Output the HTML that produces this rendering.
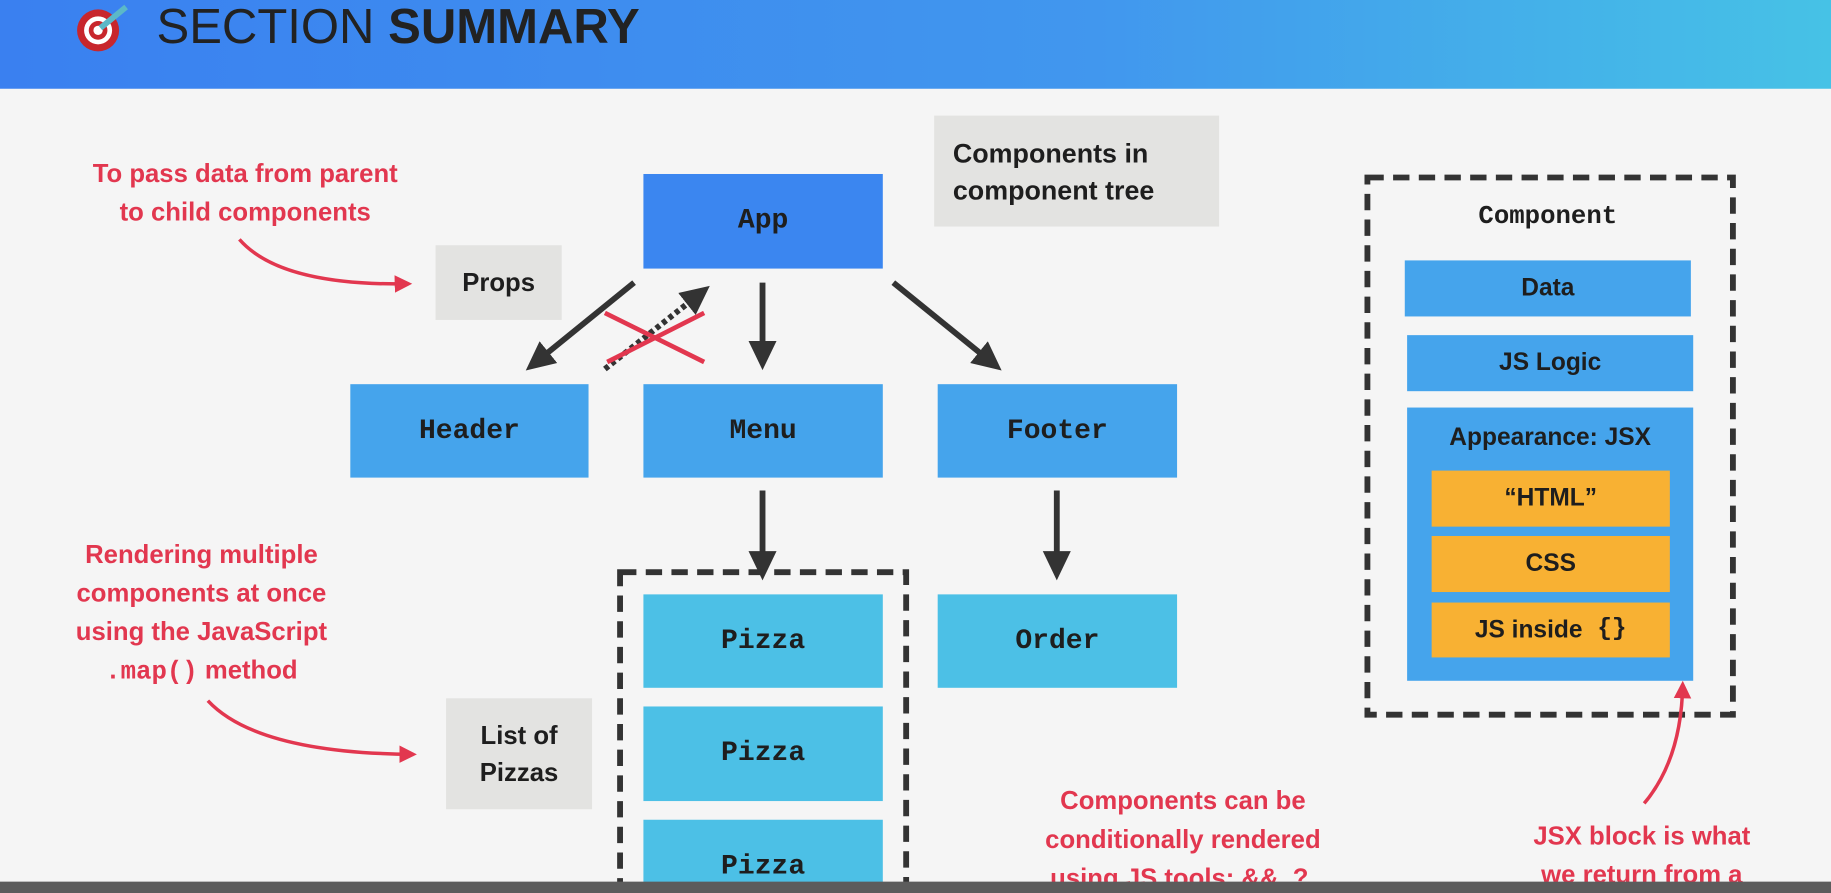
<!DOCTYPE html>
<html><head><meta charset="utf-8"><style>
html,body{margin:0;padding:0;width:1831px;height:893px;overflow:hidden;background:#f5f5f5}
#s{position:absolute;left:0;top:0;width:1568px;height:765px;overflow:hidden;transform:scale(1.16773);transform-origin:0 0;font-family:"Liberation Sans",sans-serif}
.b{position:absolute;display:flex;align-items:center;justify-content:center;font-weight:bold;color:#1e1e1e}
.m{font-family:"Liberation Mono",monospace;font-size:24px}
.g{background:#e3e3e1;font-size:22px;text-align:center;line-height:32px}
.r{position:absolute;color:#e2374f;font-weight:bold;font-size:22px;text-align:center;line-height:33px}
</style></head><body><div id="s">
<div style="position:absolute;left:0;top:0;width:1568px;height:76px;background:linear-gradient(90deg,#3a80f0,#4197ee 60%,#46c2e6)"></div>
<svg style="position:absolute;left:62px;top:0" width="60" height="50"><circle cx="22" cy="26" r="18" fill="#c8262c"/><circle cx="22" cy="26" r="12" fill="#fff"/><circle cx="22" cy="26" r="8" fill="#c8262c"/><circle cx="22" cy="26" r="4" fill="#fff"/><line x1="24" y1="24" x2="46" y2="6" stroke="#5bb8c8" stroke-width="5"/></svg>
<div style="position:absolute;left:134px;top:0px;font-size:42px;color:#222;line-height:46px">SECTION <b>SUMMARY</b></div>
<div class="r" style="left:40px;top:132px;width:340px">To pass data from parent<br>to child components</div>
<div class="b g" style="left:373px;top:210px;width:108px;height:64px">Props</div>
<div class="b g" style="left:800px;top:99px;width:244px;height:95px;justify-content:flex-start;text-align:left;padding-left:16px;box-sizing:border-box;font-size:23px">Components in<br>component tree</div>
<div class="b m" style="left:551px;top:149px;width:205px;height:81px;background:#3b86f0">App</div>
<div class="b m" style="left:300px;top:329px;width:204px;height:80px;background:#45a4ec">Header</div>
<div class="b m" style="left:551px;top:329px;width:205px;height:80px;background:#45a4ec">Menu</div>
<div class="b m" style="left:803px;top:329px;width:205px;height:80px;background:#45a4ec">Footer</div>
<div class="b m" style="left:551px;top:509px;width:205px;height:80px;background:#4cc0e6">Pizza</div>
<div class="b m" style="left:551px;top:605px;width:205px;height:81px;background:#4cc0e6">Pizza</div>
<div class="b m" style="left:551px;top:702px;width:205px;height:80px;background:#4cc0e6">Pizza</div>
<div class="b m" style="left:803px;top:509px;width:205px;height:80px;background:#4cc0e6">Order</div>
<div class="r" style="left:10px;top:458px;width:325px">Rendering multiple<br>components at once<br>using the JavaScript<br><span style="font-family:'Liberation Mono',monospace">.map()</span> method</div>
<div class="b g" style="left:382px;top:598px;width:125px;height:95px">List of<br>Pizzas</div>
<div class="r" style="left:850px;top:669px;width:326px">Components can be<br>conditionally rendered<br>using JS tools: &amp;&amp;, ?,</div>
<div class="r" style="left:1266px;top:699px;width:280px">JSX block is what<br>we return from a</div>
<div class="b m" style="left:1203px;top:168px;width:245px;height:34px;font-size:22px">Component</div>
<div class="b" style="left:1203px;top:223px;width:245px;height:48px;background:#45a4ec;font-size:21px">Data</div>
<div class="b" style="left:1205px;top:287px;width:245px;height:48px;background:#45a4ec;font-size:21px">JS Logic</div>
<div class="b" style="left:1205px;top:349px;width:245px;height:234px;background:#45a4ec;font-size:21px;align-items:flex-start;padding-top:14px;box-sizing:border-box">Appearance: JSX</div>
<div class="b" style="left:1226px;top:403px;width:204px;height:48px;background:#f8b133;font-size:21px">“HTML”</div>
<div class="b" style="left:1226px;top:459px;width:204px;height:48px;background:#f8b133;font-size:21px">CSS</div>
<div class="b" style="left:1226px;top:516px;width:204px;height:47px;background:#f8b133;font-size:21px">JS inside <span style="font-family:'Liberation Mono',monospace">&nbsp;{}</span></div>
<svg style="position:absolute;left:0;top:0" width="1568" height="765">
<defs>
<marker id="a" markerWidth="6" markerHeight="6" refX="3" refY="3" orient="auto" markerUnits="strokeWidth"><path d="M0,0.6L5,3L0,5.4z" fill="#333"/></marker>
<marker id="ra" markerWidth="6" markerHeight="6" refX="4" refY="3" orient="auto" markerUnits="strokeWidth"><path d="M0,0.5L5,3L0,5.5z" fill="#e2374f"/></marker>
</defs>
<g stroke="#333" stroke-width="5" fill="none">
<line x1="543" y1="242" x2="458" y2="311" marker-end="url(#a)"/>
<line x1="653" y1="242" x2="653" y2="307" marker-end="url(#a)"/>
<line x1="765" y1="242" x2="850" y2="311" marker-end="url(#a)"/>
<line x1="653" y1="420" x2="653" y2="487" marker-end="url(#a)"/>
<line x1="905" y1="420" x2="905" y2="487" marker-end="url(#a)"/>
<line x1="518" y1="316" x2="600" y2="251" stroke-dasharray="4 3" marker-end="url(#a)"/>
<rect x="531" y="490" width="245" height="300" stroke-dasharray="14 8"/>
<rect x="1171" y="152" width="313" height="460" stroke-dasharray="14 8"/>
</g>
<g stroke="#e2374f" stroke-width="4" fill="none">
<line x1="518" y1="268" x2="603" y2="310"/><line x1="520" y1="310" x2="603" y2="268"/>
<path d="M205,205 Q240,245 350,243" stroke-width="3" marker-end="url(#ra)"/>
<path d="M178,600 Q220,645 354,646" stroke-width="3" marker-end="url(#ra)"/>
<path d="M1408,688 Q1440,650 1441,586" stroke-width="3" marker-end="url(#ra)"/>
</g>
</svg>
<div style="position:absolute;left:0;top:755px;width:1568px;height:30px;background:#5c5c5c"></div>
</div></body></html>
